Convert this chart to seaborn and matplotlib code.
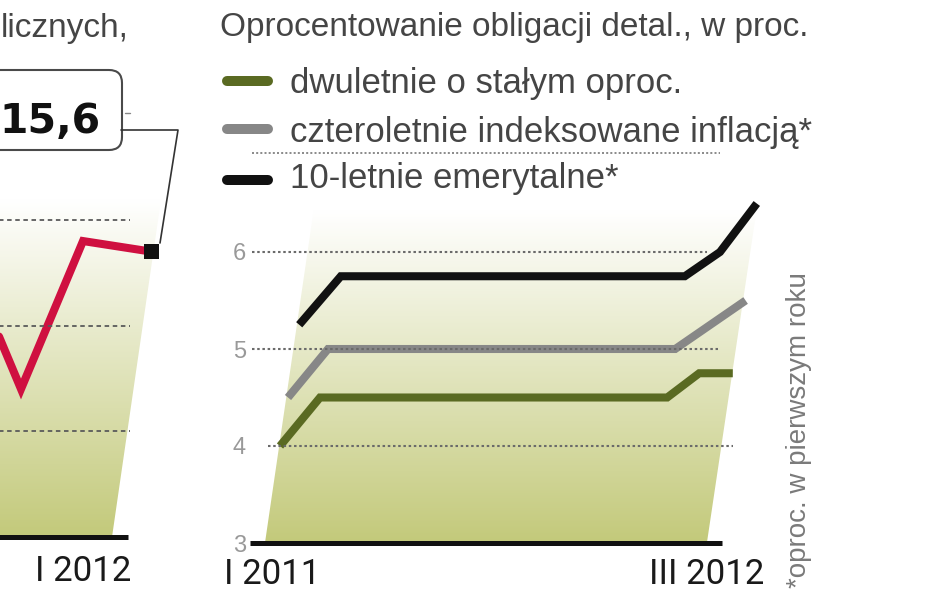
import numpy as np
import pandas as pd
import matplotlib.pyplot as plt
import seaborn as sns
from matplotlib.lines import Line2D
from matplotlib.patches import Polygon, FancyBboxPatch
from matplotlib.transforms import IdentityTransform

# dane: oprocentowanie obligacji detalicznych, w proc. (os x: miesiace od I 2011)
dwuletnie_x = [0, 1.25, 12.1, 13.1, 14.15]
dwuletnie_y = [4.0, 4.5, 4.5, 4.75, 4.75]
czteroletnie_x = [0.25, 1.5, 12.35, 14.55]
czteroletnie_y = [4.5, 5.0, 5.0, 5.5]
emerytalne_x = [0.6, 1.9, 12.65, 13.75, 14.9]
emerytalne_y = [5.25, 5.75, 5.75, 6.0, 6.5]
serie = ["dwuletnie o stałym oproc.", "czteroletnie indeksowane inflacją*", "10-letnie emerytalne*"]
kolory = ["#5a6a22", "#878787", "#111111"]
y_ticks = [3, 4, 5, 6]
x_etykiety = ["I 2011", "III 2012"]

# lewy panel (uciety na krawedzi)
lewy_x = [-2, -1, 0, 1.1]
lewy_y = [15.8, 14.4, 15.8, 15.7]
lewy_siatka = [14, 15, 16]
lewy_etykieta = "I 2012"
lewy_wartosc = "15,6"

sns.set_theme(style="white")
plt.rcParams["font.family"] = ["Liberation Sans", "DejaVu Sans"]

os_font, os_size = "Roboto", 25

W, H = 948, 593
fig = plt.figure(figsize=(W / 100, H / 100), dpi=100)


def fx(px):
    return px / W


def fy(py):
    return 1 - py / H


def gradient(ax, verts, extent):
    c0 = np.array([0.765, 0.79, 0.48])
    t = np.linspace(0, 1, 256)[:, None]
    img = c0 + (1 - c0) * np.clip(t / 0.95, 0, 1)
    img = np.repeat(img[:, None, :], 2, axis=1)
    im = ax.imshow(img, extent=extent, origin="lower", aspect="auto", zorder=0)
    poly = Polygon(verts, closed=True, transform=ax.transData, fc="none", ec="none")
    ax.add_patch(poly)
    im.set_clip_path(poly)


# ---------- prawy panel ----------
ax = fig.add_axes([fx(252), fy(543), (790 - 252) / W, (543 - 190) / H])
gradient(ax, [(-0.47, 3), (13.34, 3), (14.9, 6.45), (1.06, 6.45)], [-1, 16, 3, 6.6])

rows = []
for name, xs, ys in zip(serie, [dwuletnie_x, czteroletnie_x, emerytalne_x],
                        [dwuletnie_y, czteroletnie_y, emerytalne_y]):
    for x, y in zip(xs, ys):
        rows.append({"miesiac": x, "proc": y, "seria": name})
df = pd.DataFrame(rows)
sns.lineplot(data=df, x="miesiac", y="proc", hue="seria", palette=dict(zip(serie, kolory)),
             estimator=None, sort=False, legend=False, linewidth=5.8, ax=ax, zorder=3)
for ln in ax.lines:
    ln.set_solid_joinstyle("miter")
    ln.set_solid_capstyle("butt")
    ln.set_clip_on(False)

# linie siatki (kropkowane)
for v, x0, x1 in [(6, -0.875, 13.34), (5, -0.875, 13.69), (4, -0.375, 14.16)]:
    ax.hlines(v, x0, x1, colors="#6a6a6a", linewidth=1.5, linestyles=(0, (1.2, 1.3)), zorder=4)
ax.hlines(3, (250 - 280) / 32, (722 - 280) / 32, colors="#111111", linewidth=3.6, zorder=5, clip_on=False)

ax.set_xlim((252 - 280) / 32, (790 - 280) / 32)
ax.set_ylim(3, 3 + (543 - 190) / 97)
ax.set_yticks(y_ticks)
ax.set_xticks([])
ax.tick_params(axis="y", length=0, pad=4.5, labelcolor="#999999", labelsize=17)
ax.set_xlabel("")
ax.set_ylabel("")
sns.despine(ax=ax, left=True, bottom=True)
ax.set_facecolor("none")

tr = ax.get_xaxis_transform()
ax.text((224 - 280) / 32, -(584 - 543) / 353, x_etykiety[0], transform=tr, ha="left", va="baseline",
        fontsize=os_size, color="#1a1a1a", family=os_font)
ax.text((764 - 280) / 32, -(584 - 543) / 353, x_etykiety[1], transform=tr, ha="right", va="baseline",
        fontsize=os_size, color="#1a1a1a", family=os_font)

# tytul i legenda
fig.text(fx(220), fy(36), "Oprocentowanie obligacji detal., w proc.", fontsize=24, color="#454545", va="baseline")
for name, kol, yc, yb in zip(serie, kolory, [81, 129, 180], [93, 142, 188]):
    fig.add_artist(Line2D([fx(227), fx(268)], [fy(yc), fy(yc)], lw=7.2, color=kol, solid_capstyle="round"))
    fig.text(fx(290), fy(yb), name, fontsize=25, color="#454545", va="baseline")
fig.add_artist(Line2D([fx(252), fx(720)], [fy(153), fy(153)], lw=1.2, color="#777777", ls=(0, (1.2, 1.3))))

fig.text(fx(799), fy(588), "*oproc. w pierwszym roku", rotation=90, ha="center", va="bottom",
         fontsize=20, color="#7a7a7a")

# ---------- lewy panel ----------
axl = fig.add_axes([0, fy(537), 175 / W, (537 - 180) / H])
gradient(axl, [(-1.6, 13), (0.468, 13), (1.26, 16.2), (-1.6, 16.2)], [-1.6, 1.6, 13, 16.35])
sns.lineplot(x=lewy_x, y=lewy_y, color="#cf1040", linewidth=5.8, ax=axl, zorder=3)
for ln in axl.lines:
    ln.set_solid_joinstyle("miter")
sns.scatterplot(x=[lewy_x[-1]], y=[lewy_y[-1]], marker="s", s=115, color="#111111",
                edgecolor="none", ax=axl, zorder=6, clip_on=False)
axl.hlines(lewy_siatka, -1.4, 0.758, colors="#5a5a5a", linewidth=1.3, linestyles=(0, (2.5, 2.0)), zorder=4)
axl.hlines(13, -1.4, 0.726, colors="#111111", linewidth=3.6, zorder=5, clip_on=False)
axl.set_xlim((0 - 83) / 62, (175 - 83) / 62)
axl.set_ylim(13, 13 + (537 - 180) / 105.7)
axl.set_xticks([])
axl.set_yticks([])
sns.despine(ax=axl, left=True, bottom=True)
axl.set_facecolor("none")
axl.text(0, -(581 - 537) / 357, lewy_etykieta, transform=axl.get_xaxis_transform(), ha="center",
         va="baseline", fontsize=os_size, color="#1a1a1a", family=os_font)

fig.text(fx(129), fy(37), "licznych,", fontsize=24, color="#454545", ha="right", va="baseline")

# ramka z wartoscia
box = FancyBboxPatch((-20, H - 150), 142, 80, boxstyle="round,pad=0,rounding_size=13",
                     transform=IdentityTransform(), fc="white", ec="#4a4a4a", lw=1.5)
fig.add_artist(box)
fig.text(fx(101), fy(133), lewy_wartosc, ha="right", va="baseline", fontsize=29.5, weight="bold",
         color="#111111", family="DejaVu Sans")
fig.add_artist(Line2D([fx(121), fx(178), fx(160)], [fy(130), fy(130), fy(243)], lw=1.2, color="#333333"))
fig.add_artist(Line2D([fx(125), fx(130)], [fy(113), fy(113)], lw=1, color="#888888"))

fig.savefig("out.png", dpi=100)
